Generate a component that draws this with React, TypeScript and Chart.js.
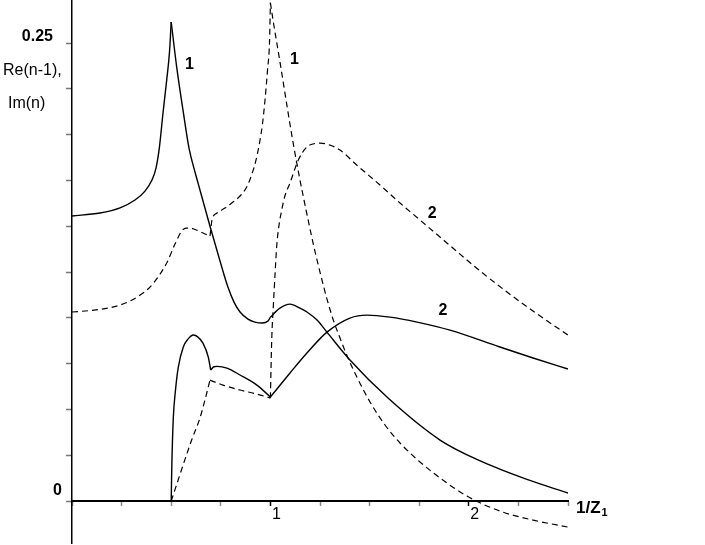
import React, { useEffect, useRef } from 'react';
import { Chart, registerables } from 'chart.js';

Chart.register(...registerables);

// Curve 1, solid
const solid1X = [0, 0.141, 0.242, 0.3175, 0.368, 0.403, 0.4234, 0.44, 0.4587, 0.4773, 0.4914, 0.5, 0.5277, 0.5595, 0.5897, 0.62, 0.645, 0.6956, 0.746, 0.786, 0.8165, 0.847, 0.887, 0.922, 0.958, 0.988, 1.0, 1.048, 1.099, 1.149, 1.184, 1.235, 1.285, 1.401, 1.593, 1.855, 2.072, 2.293, 2.5];
const solid1Y = [0.1556, 0.1572, 0.16, 0.1643, 0.1692, 0.1752, 0.1817, 0.1926, 0.2118, 0.2298, 0.2451, 0.2615, 0.2369, 0.2134, 0.1927, 0.1796, 0.1698, 0.15, 0.131, 0.1168, 0.1086, 0.1032, 0.0993, 0.0977, 0.0972, 0.0983, 0.1004, 0.1053, 0.1075, 0.1053, 0.1032, 0.0988, 0.0922, 0.077, 0.0562, 0.0333, 0.0212, 0.0118, 0.0044];
const solid1Kinks = [0.5, 1.0];

// Curve 2, solid
const solid2X = [0.5, 0.503, 0.5106, 0.5217, 0.5358, 0.561, 0.5847, 0.6114, 0.635, 0.66, 0.687, 0.699, 0.715, 0.731, 0.781, 0.847, 0.932, 1.0, 1.099, 1.184, 1.285, 1.401, 1.487, 1.603, 1.739, 1.905, 2.157, 2.324, 2.5];
const solid2Y = [0, 0.0186, 0.0453, 0.0606, 0.0731, 0.0841, 0.0884, 0.0906, 0.0895, 0.0862, 0.0786, 0.0715, 0.0733, 0.0735, 0.0726, 0.0688, 0.0633, 0.0568, 0.0699, 0.0808, 0.0922, 0.0999, 0.1015, 0.1004, 0.0977, 0.0933, 0.0841, 0.0781, 0.0721];
const solid2Kinks = [0.699, 1.0];

// Curve 1, dashed
const dashed1X = [0, 0.0907, 0.1815, 0.242, 0.2923, 0.3427, 0.393, 0.4335, 0.4773, 0.5192, 0.5529, 0.5746, 0.5948, 0.62, 0.6452, 0.6704, 0.6956, 0.7056, 0.731, 0.7712, 0.8115, 0.847, 0.8805, 0.907, 0.9274, 0.945, 0.96, 0.9728, 0.9854, 0.9955, 1.0, 1.0181, 1.0484, 1.0822, 1.1139, 1.1492, 1.183, 1.2162, 1.25, 1.2838, 1.317, 1.3508, 1.3846, 1.443, 1.502, 1.5776, 1.6532, 1.754, 1.8548, 1.991, 2.1573, 2.3236, 2.5];
const dashed1Y = [0.1032, 0.104, 0.1053, 0.107, 0.1092, 0.1124, 0.1168, 0.1223, 0.1299, 0.1403, 0.1474, 0.149, 0.149, 0.1482, 0.1471, 0.1458, 0.1447, 0.1534, 0.1572, 0.1599, 0.1632, 0.1665, 0.1714, 0.1785, 0.1861, 0.1954, 0.2058, 0.2189, 0.2352, 0.2505, 0.272, 0.2593, 0.2396, 0.2167, 0.1959, 0.1752, 0.1572, 0.1403, 0.125, 0.1108, 0.0988, 0.089, 0.0797, 0.0661, 0.0541, 0.0415, 0.0317, 0.0213, 0.0126, 0.0027, -0.0055, -0.0104, -0.0142];
const dashed1Kinks = [0.6956, 1.0];

// Curve 2, dashed
const dashed2X = [0.5, 0.603, 0.645, 0.67, 0.6956, 0.761, 0.847, 0.932, 1.0, 1.0066, 1.0151, 1.0237, 1.0318, 1.0428, 1.057, 1.0731, 1.0988, 1.1406, 1.183, 1.2147, 1.25, 1.3004, 1.3508, 1.435, 1.5524, 1.6532, 1.754, 1.8548, 1.9556, 2.0565, 2.1925, 2.3236, 2.5];
const dashed2Y = [0, 0.0333, 0.0453, 0.0551, 0.066, 0.0633, 0.0606, 0.0584, 0.0562, 0.0879, 0.107, 0.1245, 0.1392, 0.1501, 0.1588, 0.1665, 0.1736, 0.1861, 0.1932, 0.1949, 0.1954, 0.1943, 0.1916, 0.1834, 0.1725, 0.1627, 0.1534, 0.1441, 0.1348, 0.1256, 0.1141, 0.1037, 0.0906];
const dashed2Kinks = [0.6956, 1.0];

const xTickValues = [0, 0.25, 0.5, 0.75, 1, 1.25, 1.5, 1.75, 2, 2.25, 2.5];
const xTickLabels = ['', '', '', '', '1', '', '', '', '2', '', ''];
const yTickValues = [0, 0.025, 0.05, 0.075, 0.1, 0.125, 0.15, 0.175, 0.2, 0.225, 0.25];
const yTickLabels = ['0', '', '', '', '', '', '', '', '', '', '0.25'];

const curveLabelText = ['1', '1', '2', '2'];
const curveLabelX = [0.592, 1.121, 1.87, 1.815];
const curveLabelY = [0.238, 0.2407, 0.1037, 0.157];

const xAxisTitle = '1/Z';
const xAxisTitleSub = '1';
const yAxisTitleLines = ['Re(n-1),', 'Im(n)'];

const FONT = '"Liberation Sans", Arial, sans-serif';

// split a curve into smooth pieces at its kinks (kink point shared by both pieces)
const splitPieces = (xs: number[], ys: number[], kinks: number[]) => {
  const pieces: { x: number; y: number }[][] = [];
  let cur: { x: number; y: number }[] = [];
  xs.forEach((x, i) => {
    const p = { x, y: ys[i] };
    cur.push(p);
    if (kinks.includes(x) && i > 0 && i < xs.length - 1) {
      pieces.push(cur);
      cur = [p];
    }
  });
  if (cur.length > 1) pieces.push(cur);
  return pieces;
};

const textPlugin = {
  id: 'textPlugin',
  afterDraw(chart: any) {
    const { ctx } = chart;
    const xs = chart.scales.x;
    const ys = chart.scales.y;
    const x0 = xs.getPixelForValue(0);
    ctx.save();
    ctx.fillStyle = '#000';
    ctx.textBaseline = 'alphabetic';

    // y tick labels
    ctx.font = `bold 16px ${FONT}`;
    ctx.textAlign = 'right';
    yTickValues.forEach((v, i) => {
      const t = yTickLabels[i];
      if (!t) return;
      const py = ys.getPixelForValue(v);
      const dx = t.length > 1 ? 19 : 10;
      const dy = v === 0 ? 6 : 2;
      ctx.fillText(t, x0 - dx, py - dy);
    });

    // y axis title
    ctx.font = `16px ${FONT}`;
    ctx.textAlign = 'left';
    ctx.fillText(yAxisTitleLines[0], x0 - 69, ys.getPixelForValue(0.25) + 32);
    ctx.fillText(yAxisTitleLines[1], x0 - 64, ys.getPixelForValue(0.25) + 65);

    // x axis title
    const xr = xs.getPixelForValue(2.5);
    const yz = ys.getPixelForValue(0);
    ctx.font = `bold 17px ${FONT}`;
    ctx.fillText(xAxisTitle, xr + 8, yz + 12);
    const w = ctx.measureText(xAxisTitle).width;
    ctx.font = `bold 11px ${FONT}`;
    ctx.fillText(xAxisTitleSub, xr + 9 + w, yz + 15);

    // curve labels
    ctx.font = `bold 16px ${FONT}`;
    ctx.textAlign = 'center';
    ctx.textBaseline = 'middle';
    curveLabelText.forEach((t, i) => {
      ctx.fillText(t, xs.getPixelForValue(curveLabelX[i]), ys.getPixelForValue(curveLabelY[i]));
    });
    ctx.restore();
  },
};

export default function App() {
  const ref = useRef<HTMLCanvasElement | null>(null);
  useEffect(() => {
    if (!ref.current) return;
    const lineBase = {
      pointRadius: 0,
      fill: false,
      borderColor: '#000',
      borderCapStyle: 'butt' as const,
      cubicInterpolationMode: 'monotone' as const,
    };
    const curves = [
      { name: 'Re 1', xs: solid1X, ys: solid1Y, kinks: solid1Kinks, dashed: false },
      { name: 'Re 2', xs: solid2X, ys: solid2Y, kinks: solid2Kinks, dashed: false },
      { name: 'Im 1', xs: dashed1X, ys: dashed1Y, kinks: dashed1Kinks, dashed: true },
      { name: 'Im 2', xs: dashed2X, ys: dashed2Y, kinks: dashed2Kinks, dashed: true },
    ];
    const datasets: any[] = [];
    curves.forEach((c) => {
      splitPieces(c.xs, c.ys, c.kinks).forEach((piece, k) => {
        datasets.push({
          ...lineBase,
          label: `${c.name} (${k + 1})`,
          data: piece,
          borderWidth: c.dashed ? 1.2 : 1.4,
          borderDash: c.dashed ? [6, 4] : [],
        });
      });
    });
    const chart = new Chart(ref.current, {
      type: 'line',
      data: { datasets },
      options: {
        animation: false,
        responsive: false,
        devicePixelRatio: 1,
        layout: { padding: { left: 72, right: 137, top: 0, bottom: 2 } },
        plugins: { legend: { display: false }, tooltip: { enabled: false }, title: { display: false } },
        scales: {
          x: {
            type: 'linear',
            min: 0,
            max: 2.5,
            position: { y: 0 } as any,
            afterBuildTicks: (s: any) => { s.ticks = xTickValues.map((v) => ({ value: v })); },
            border: { display: true, color: '#000', width: 2 },
            grid: { display: true, drawOnChartArea: false, drawTicks: true, tickLength: 4, tickWidth: 1.5, tickColor: (c: any) => (c.tick && (c.tick.value === 1 || c.tick.value === 2) ? '#000' : '#888') },
            ticks: {
              autoSkip: false,
              maxRotation: 0,
              padding: 0,
              labelOffset: 6,
              color: '#000',
              font: { size: 16, family: FONT },
              callback: (v: any) => { const i = xTickValues.indexOf(Number(v)); return i >= 0 ? xTickLabels[i] : ''; },
            },
          },
          y: {
            type: 'linear',
            min: -0.0229,
            max: 0.2735,
            position: { x: 0 } as any,
            afterBuildTicks: (s: any) => { s.ticks = yTickValues.map((v) => ({ value: v })); },
            border: { display: true, color: '#000', width: 1.5 },
            grid: { display: true, drawOnChartArea: false, drawTicks: true, tickLength: 5, tickWidth: 1.5, tickColor: '#777' },
            ticks: { display: false },
          },
        },
      },
      plugins: [textPlugin],
    });
    return () => chart.destroy();
  }, []);
  return (
    <div style={{ position: 'fixed', left: 0, top: 0, width: 705, height: 545, background: '#fff' }}>
      <canvas ref={ref} width={705} height={545} style={{ display: 'block', width: 705, height: 545 }} />
    </div>
  );
}
